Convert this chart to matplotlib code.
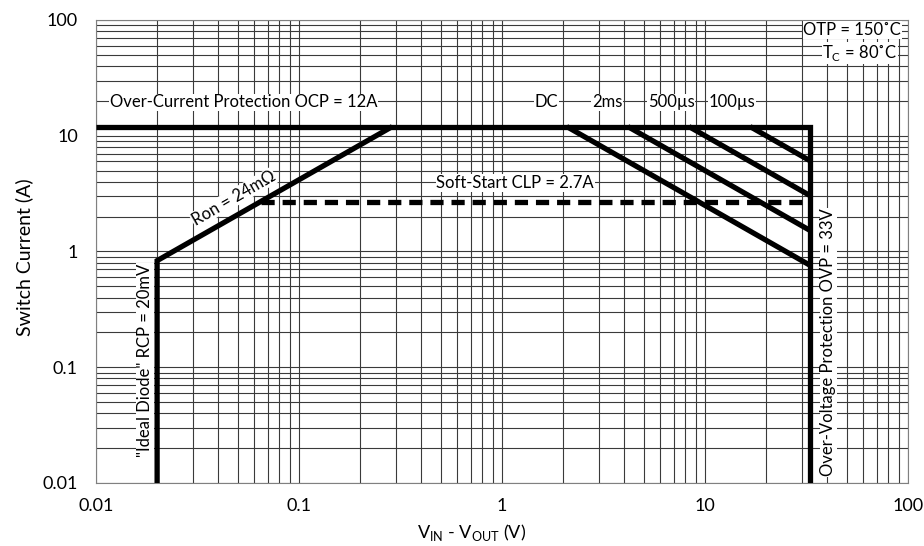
import numpy as np
import matplotlib
matplotlib.use("Agg")
import matplotlib.pyplot as plt
from matplotlib.ticker import FixedLocator, FixedFormatter, LogLocator, NullFormatter

plt.rcParams['font.family'] = ['Lato', 'DejaVu Sans']

# limits
ocp = 12.0          # A
ovp = 33.0          # V
rcp = 0.02          # V
ron = 0.024         # ohm
clp = 2.7           # A
# power limits for DC, 2ms, 500us, 100us curves (W)
pulse_labels = ['DC', '2ms', '500µs', '100µs']
pulse_power = [25, 50, 100, 200]
pulse_label_x = [1.65, 3.29, 6.8, 13.6]

major_ticks = [0.01, 0.1, 1, 10, 100]
major_labels = ['0.01', '0.1', '1', '10', '100']

fig = plt.figure(figsize=(9.24, 5.46), dpi=100)
ax = fig.add_axes([0.1039, 0.1154, 0.8788, 0.848])
ax.set_xscale('log')
ax.set_yscale('log')
ax.set_xlim(0.01, 100)
ax.set_ylim(0.01, 100)

for axis in (ax.xaxis, ax.yaxis):
    axis.set_major_locator(FixedLocator(major_ticks))
    axis.set_major_formatter(FixedFormatter(major_labels))
    axis.set_minor_locator(LogLocator(base=10, subs=np.arange(2, 10)))
    axis.set_minor_formatter(NullFormatter())
ax.tick_params(which='both', length=0)
ax.tick_params(axis='x', pad=11, labelsize=13)
ax.tick_params(axis='y', pad=13, labelsize=13)
ax.grid(which='both', color='#3a3a3a', lw=0.8)
ax.set_axisbelow(True)
for s in ax.spines.values():
    s.set_color('#808080')
    s.set_linewidth(0.8)

lw = 3.8
kw = dict(color='black', lw=lw, solid_capstyle='butt', solid_joinstyle='miter', zorder=3)

# OCP top line and OVP vertical
ax.plot([0.01, ovp, ovp], [ocp, ocp, 0.01], **kw)
# RCP vertical + Ron slope
v_ron = ocp * ron
ax.plot([rcp, rcp, v_ron], [0.01, rcp / ron, ocp], **kw)
# Soft-start dashed
ax.plot([clp * ron, ovp], [clp, clp], color='black', lw=lw, ls=(0, (2.5, 1.5)), zorder=3)
# power curves
for p in pulse_power:
    ax.plot([p / ocp, ovp], [ocp, p / ovp], **kw)

box = dict(facecolor='white', edgecolor='none', pad=0.5)
fs = 12
ax.text(0.01173, 19.4, 'Over-Current Protection OCP = 12A', ha='left', va='center', fontsize=fs, bbox=box)
for lab, x in zip(pulse_labels, pulse_label_x):
    ax.text(x, 19.4, lab, ha='center', va='center', fontsize=fs, bbox=box)
ax.text(1.16, 3.9, 'Soft-Start CLP = 2.7A', ha='center', va='center', fontsize=fs, bbox=box)
ax.text(0.0476, 2.9, 'Ron = 24mΩ', ha='center', va='center', rotation=30, fontsize=fs, bbox=box)
ax.text(53, 82, 'OTP = 150˚C', ha='center', va='center', fontsize=fs, bbox=box)
ax.text(58, 52, r'T$_\mathregular{C}$ = 80˚C', ha='center', va='center', fontsize=fs, bbox=box)
ax.text(0.0174, 0.1155, '"Ideal Diode" RCP = 20mV', ha='center', va='center', rotation=90, fontsize=fs, bbox=box)
ax.text(40.5, 0.165, 'Over-Voltage Protection OVP = 33V', ha='center', va='center', rotation=90, fontsize=fs, bbox=box)

ax.set_ylabel('Switch Current (A)', fontsize=14)
ax.yaxis.set_label_coords(-0.078, 0.487)
ax.set_xlabel(r'V$_\mathregular{IN}$ - V$_\mathregular{OUT}$ (V)', fontsize=13)
ax.xaxis.set_label_coords(0.462, -0.085)

fig.savefig('out.png', dpi=100)
